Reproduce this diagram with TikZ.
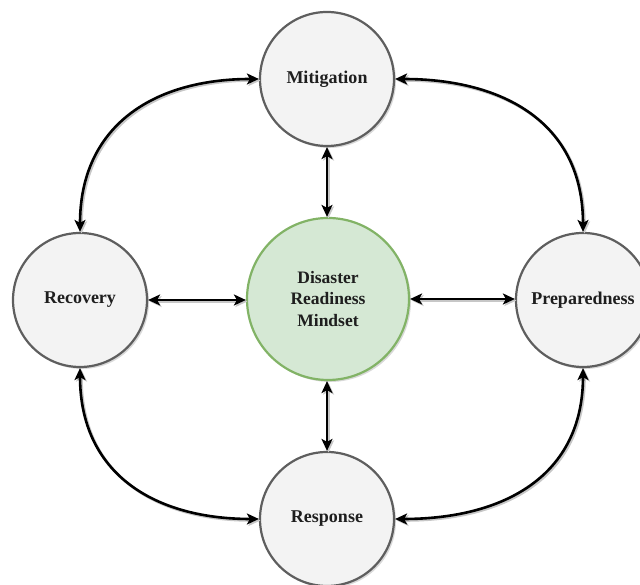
\documentclass[tikz,border=0pt]{standalone}
\usepackage{fontspec}
\setmainfont{Liberation Serif}
\usetikzlibrary{arrows.meta,shadows}
\definecolor{grayfill}{HTML}{F3F3F3}
\definecolor{graystroke}{HTML}{5E5E5E}
\definecolor{greenfill}{HTML}{D5E8D4}
\definecolor{greenstroke}{HTML}{82B366}
\definecolor{txt}{HTML}{1E1E1E}
\tikzset{
  outer/.style={circle, draw=graystroke, fill=grayfill, line width=2.2pt,
    minimum size=134pt, inner sep=0pt, text=txt,
    font=\fontsize{18}{21}\selectfont\bfseries,
    drop shadow={opacity=0.3, shadow xshift=2pt, shadow yshift=-2pt}},
  core/.style={circle, draw=greenstroke, fill=greenfill, line width=2.2pt,
    minimum size=162pt, inner sep=0pt, text=txt, align=center,
    font=\fontsize{17.5}{21.5}\selectfont\bfseries,
    drop shadow={opacity=0.3, shadow xshift=2pt, shadow yshift=-2pt}},
  link/.style={{Stealth[length=12pt,width=11pt,inset=3pt]}-{Stealth[length=12pt,width=11pt,inset=3pt]},
    line width=2.6pt, black,
    preaction={draw=black!22, line width=2.6pt, transform canvas={shift={(1.5pt,-1.5pt)}}}}
}
\begin{document}
\begin{tikzpicture}[x=1pt,y=1pt]
\useasboundingbox (0,0) rectangle (640,585);
\clip (0,0) rectangle (640,585);
\node[outer] (mit) at (327,506) {Mitigation};
\node[outer] (rec) at (80,285) {Recovery};
\node[outer] (pre) at (583,285) {Preparedness};
\node[outer] (res) at (327,66) {Response};
\node[core] (dr) at (328,286) {Disaster\\Readiness\\Mindset};
\draw[link] (mit.south) -- (mit.south |- dr.north);
\draw[link] (res.north) -- (res.north |- dr.south);
\draw[link] (rec.east) -- (rec.east -| dr.west);
\draw[link] (dr.east) -- (dr.east -| pre.west);
\draw[link] (mit.west) to[out=180,in=90,looseness=1.15] (rec.north);
\draw[link] (mit.east) to[out=0,in=90,looseness=1.15] (pre.north);
\draw[link] (rec.south) to[out=-90,in=180,looseness=1.15] (res.west);
\draw[link] (pre.south) to[out=-90,in=0,looseness=1.15] (res.east);
\end{tikzpicture}
\end{document}
